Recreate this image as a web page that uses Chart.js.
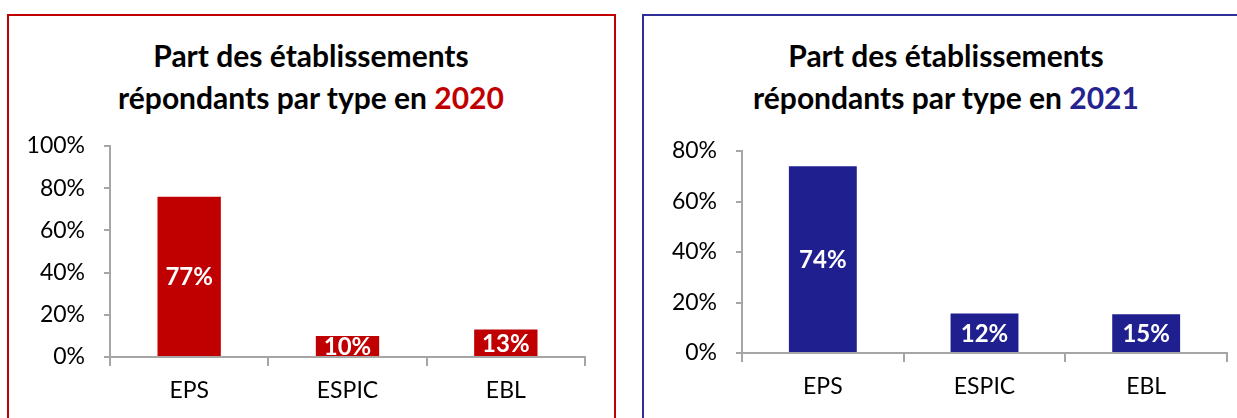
<!DOCTYPE html>
<html lang="fr">
<head>
<meta charset="utf-8">
<script src="https://cdn.jsdelivr.net/npm/chart.js@4/dist/chart.umd.min.js"></script>
<style>
  html, body { margin:0; padding:0; background:#fff; }
  body { width:1237px; height:418px; position:relative; overflow:hidden; font-family:Lato, sans-serif; }
  .panel { position:absolute; top:14px; height:480px; border:2px solid; box-sizing:border-box; }
  #p2020 { left:7px; width:609px; border-color:#C00000; }
  #p2021 { left:642px; width:640px; border-color:#2E2E98; }
  .title { position:absolute; top:34px; text-align:center; font-weight:bold; font-size:30px; line-height:42px; color:#000; }
  #t2020 { left:0; width:622px; }
  #t2021 { left:646px; width:600px; }
  #t2020 span { color:#C00000; }
  #t2021 span { color:#24238F; }
  canvas { position:absolute; top:0; }
  #c2020 { left:0; }
  #c2021 { left:620px; }
</style>
</head>
<body>
<div class="panel" id="p2020"></div>
<div class="panel" id="p2021"></div>
<div class="title" id="t2020">Part des établissements<br>répondants par type en <span>2020</span></div>
<div class="title" id="t2021">Part des établissements<br>répondants par type en <span>2021</span></div>
<canvas id="c2020" width="620" height="418"></canvas>
<canvas id="c2021" width="617" height="418"></canvas>
<script>
// ── DATA ─────────────────────────────────────────────────
const categories = ['EPS', 'ESPIC', 'EBL'];

const values2020 = [76, 10, 13];
const labels2020 = ['77%', '10%', '13%'];
const yTicks2020 = [0, 20, 40, 60, 80, 100];

const values2021 = [74, 15.6, 15.3];
const labels2021 = ['74%', '12%', '15%'];
const yTicks2021 = [0, 20, 40, 60, 80];

const AXIS = '#A6A6A6';
const FONT = 'Lato';

// ── labels in the middle of each bar ─────────────────────
const barLabels = {
  id: 'barLabels',
  afterDatasetsDraw(chart, args, opts) {
    const ctx = chart.ctx;
    ctx.save();
    ctx.font = 'bold 24px ' + FONT;
    ctx.fillStyle = '#fff';
    ctx.textAlign = 'center';
    ctx.textBaseline = 'middle';
    chart.getDatasetMeta(0).data.forEach((bar, i) => {
      ctx.fillText(opts.texts[i], bar.x, (bar.y + bar.base) / 2 + 1);
    });
    ctx.restore();
  }
};

function makeChart(id, values, texts, yTicks, color, barPct, yWidth, xHeight, pad) {
  const max = yTicks[yTicks.length - 1];
  const step = yTicks[1] - yTicks[0];
  return new Chart(document.getElementById(id), {
    type: 'bar',
    data: {
      labels: categories,
      datasets: [{
        data: values,
        backgroundColor: color,
        barPercentage: barPct,
        categoryPercentage: 1
      }]
    },
    options: {
      responsive: false,
      animation: false,
      layout: { padding: pad },
      plugins: {
        legend: { display: false },
        tooltip: { enabled: false },
        barLabels: { texts: texts }
      },
      scales: {
        x: {
          grid: { drawOnChartArea: false, tickLength: 9, color: AXIS, lineWidth: 2 },
          border: { color: AXIS, width: 2 },
          ticks: { color: '#000', font: { family: FONT, size: 23 }, padding: 11 },
          afterFit: s => { s.height = xHeight; }
        },
        y: {
          min: 0,
          max: max,
          grid: { drawOnChartArea: false, tickLength: 6, color: AXIS, lineWidth: 2 },
          border: { color: AXIS, width: 2 },
          ticks: {
            stepSize: step,
            color: '#000',
            font: { family: FONT, size: 23 },
            padding: 19,
            callback: v => v + '%'
          },
          afterFit: s => { s.width = yWidth; }
        }
      }
    },
    plugins: [barLabels]
  });
}

makeChart('c2020', values2020, labels2020, yTicks2020, '#C00000', 0.4, 110, 61,
  { left: 0, right: 35, top: 146, bottom: 0 });
makeChart('c2021', values2021, labels2021, yTicks2021, '#201F90', 0.42, 122, 65,
  { left: 0, right: 10, top: 151, bottom: 0 });
</script>
</body>
</html>
